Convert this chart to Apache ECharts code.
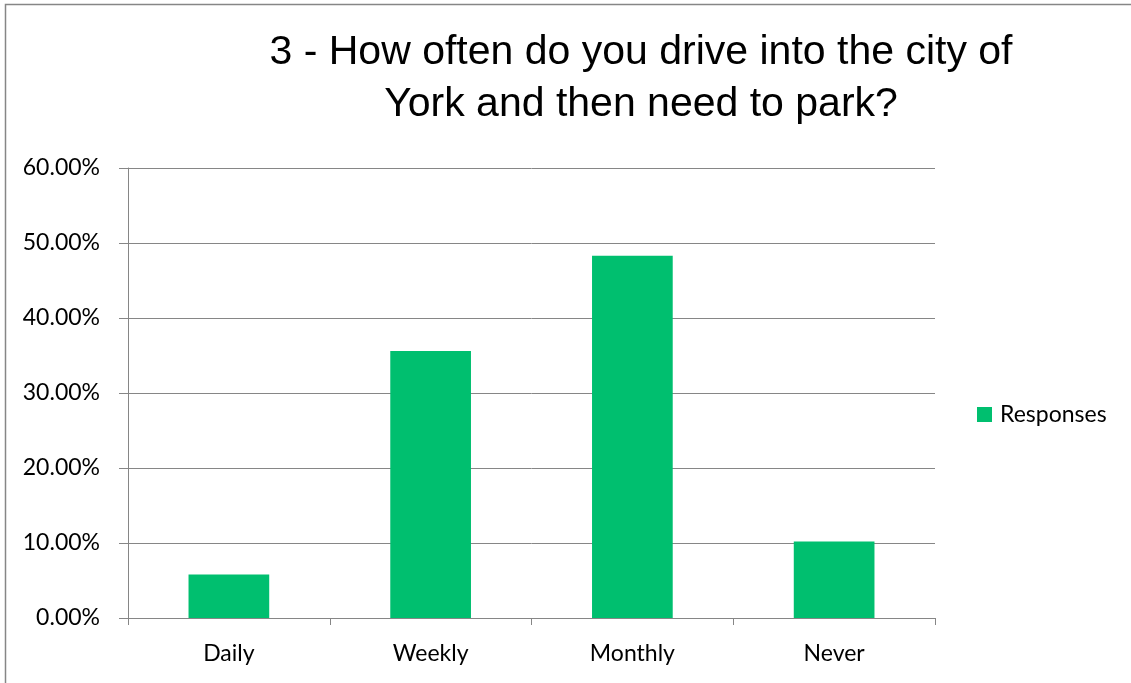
<!DOCTYPE html>
<html>
<head>
<meta charset="utf-8">
<title>Survey chart</title>
<script src="https://cdn.jsdelivr.net/npm/echarts@6/dist/echarts.min.js"></script>
<style>
  html, body { margin: 0; padding: 0; background: #ffffff; }
  #chart { width: 1131px; height: 683px; }
</style>
</head>
<body>
<div id="chart"></div>
<script>
// Survey question 3: share of responses per frequency
const categories = ['Daily', 'Weekly', 'Monthly', 'Never'];
const responses = [5.8, 35.6, 48.3, 10.2];
const yTicks = { min: 0, max: 60, interval: 10 };
const seriesName = 'Responses';
const titleLines = ['3 - How often do you drive into the city of', 'York and then need to park?'];

const gray = '#868686';
const labelFont = 'Lato, "Open Sans", sans-serif';

const chart = echarts.init(document.getElementById('chart'), null, { renderer: 'canvas' });
chart.setOption({
  backgroundColor: '#ffffff',
  animation: false,
  graphic: [{
    type: 'rect',
    shape: { x: 5.5, y: 4.5, width: 1200, height: 760 },
    style: { fill: 'none', stroke: gray, lineWidth: 1.5 },
    silent: true
  }],
  title: {
    text: titleLines.join('\n'),
    left: 636,
    top: 22,
    textAlign: 'center',
    textStyle: {
      fontFamily: '"Liberation Sans", Arial, sans-serif',
      fontSize: 41,
      fontWeight: 'normal',
      color: '#000000',
      lineHeight: 52
    }
  },
  legend: {
    data: [seriesName],
    orient: 'vertical',
    left: 972,
    top: 398,
    icon: 'rect',
    itemWidth: 15,
    itemHeight: 15,
    itemGap: 6,
    textStyle: { fontFamily: labelFont, fontSize: 23, color: '#000000', padding: [0, 0, 0, 3] }
  },
  grid: { left: 128, right: 196, top: 168, bottom: 65, containLabel: false },
  xAxis: {
    type: 'category',
    data: categories,
    axisLine: { lineStyle: { color: gray, width: 1 } },
    axisTick: { show: true, length: 7, lineStyle: { color: gray } },
    axisLabel: { fontFamily: labelFont, fontSize: 23, color: '#000000', margin: 24 }
  },
  yAxis: {
    type: 'value',
    min: yTicks.min,
    max: yTicks.max,
    interval: yTicks.interval,
    axisLine: { show: true, lineStyle: { color: gray, width: 1 } },
    axisTick: { show: true, length: 9, lineStyle: { color: gray } },
    splitLine: { lineStyle: { color: gray, width: 1 } },
    axisLabel: {
      fontFamily: labelFont, fontSize: 23, color: '#000000', margin: 28,
      formatter: v => v.toFixed(2) + '%'
    }
  },
  series: [{
    name: seriesName,
    type: 'bar',
    data: responses,
    barWidth: '40%',
    itemStyle: { color: '#00BF6F' }
  }]
});
</script>
</body>
</html>
